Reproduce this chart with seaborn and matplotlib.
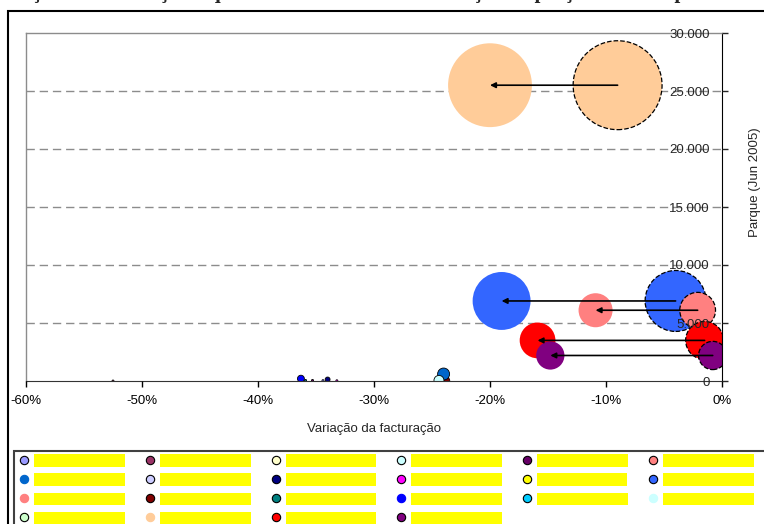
import matplotlib
matplotlib.use('Agg')
import matplotlib.pyplot as plt
import seaborn as sns
import pandas as pd
from matplotlib.lines import Line2D
from matplotlib.patches import Rectangle
from matplotlib.ticker import FuncFormatter

sns.set_style('white')
plt.rcParams['font.family'] = ['Liberation Sans', 'DejaVu Sans']

titulo = 'Variação da facturação e quota de mercado com a redução de preço estimada pelo modelo'

# operadores que se deslocam com a redução de preço (antes -> depois)
cores_mov = ['#FFCC99', '#3366FF', '#FF8080', '#FF0000', '#800080']
var_antes = [-9.0, -4.0, -2.1, -1.5, -0.8]
var_depois = [-20.0, -19.0, -10.9, -15.9, -14.8]
parque_mov = [25500, 6900, 6100, 3500, 2200]
fact_antes = [198, 93, 32, 36, 20]
fact_depois = [176, 84, 29, 32, 20]

# pequenos operadores junto ao eixo
cores_pq = ['#993366', '#0000FF', '#008080', '#660066', '#9999FF', '#000080', '#FF00FF', '#800000', '#0066CC', '#CCFFFF']
bordas_pq = ['black', 'none', 'black', 'black', 'black', 'black', 'black', 'black', 'none', 'black']
var_pq = [-52.5, -36.3, -35.9, -35.3, -34.4, -34.0, -33.2, -23.9, -24.0, -24.4]
parque_pq = [0, 200, 50, 50, 30, 130, 20, 0, 600, 50]
fact_pq = [0.1, 1.2, 0.1, 0.1, 0.1, 0.6, 0.1, 2.5, 3.6, 2.5]

# legenda (por linhas)
leg_cores = ['#9999FF', '#993366', '#FFFFCC', '#CCFFFF', '#660066', '#FF8080',
             '#0066CC', '#CCCCFF', '#000080', '#FF00FF', '#FFFF00', '#3366FF',
             '#FF8080', '#800000', '#008080', '#0000FF', '#00CCFF', '#CCFFFF',
             '#CCFFCC', '#FFCC99', '#FF0000', '#800080']
leg_borda = [1, 1, 1, 1, 1, 1, 0, 1, 1, 1, 1, 1, 0, 1, 1, 0, 1, 0, 1, 0, 1, 1]

yticks = [0, 5000, 10000, 15000, 20000, 25000, 30000]
xticks = [-60, -50, -40, -30, -20, -10, 0]

fmax = max(fact_antes)
smax = 20.7 * fmax  # area proporcional a facturacao

fig = plt.figure(figsize=(7.64, 5.24), dpi=100)
ax = fig.add_axes([26/764, 1-381/524, 696/764, 348/524])

df_antes = pd.DataFrame({'var': var_antes, 'parque': parque_mov, 'fact': fact_antes, 'cor': cores_mov})
df_depois = pd.DataFrame({'var': var_depois, 'parque': parque_mov, 'fact': fact_depois, 'cor': cores_mov})
df_pq = pd.DataFrame({'var': var_pq, 'parque': parque_pq, 'fact': fact_pq, 'cor': cores_pq})

# grelha por baixo das bolhas
for y in yticks[1:-1]:
    ax.axhline(y, color='#8c8c8c', linestyle=(0, (6, 3.5)), linewidth=1, zorder=0)

sns.scatterplot(data=df_antes, x='var', y='parque', hue='cor', palette={c: c for c in cores_mov},
                size='fact', sizes=(0, smax), size_norm=(0, fmax), legend=False, ax=ax,
                edgecolor='black', linewidth=0.9, linestyle='--', alpha=1)
sns.scatterplot(data=df_depois, x='var', y='parque', hue='cor', palette={c: c for c in cores_mov},
                size='fact', sizes=(0, smax), size_norm=(0, fmax), legend=False, ax=ax,
                edgecolor='none', linewidth=0, alpha=1)
sns.scatterplot(data=df_pq, x='var', y='parque', hue='cor', palette={c: c for c in cores_pq},
                size='fact', sizes=(0, smax), size_norm=(0, fmax), legend=False, ax=ax,
                edgecolor=bordas_pq, linewidth=0.6, alpha=1)

for x0, x1, y in zip(var_antes, var_depois, parque_mov):
    ax.annotate('', xy=(x1, y), xytext=(x0, y),
                arrowprops=dict(arrowstyle='-|>', color='black', lw=1.2, mutation_scale=8,
                                shrinkA=0, shrinkB=0), zorder=5)

ax.set_xlim(-60, 0)
ax.set_ylim(0, 30000)
ax.set_xticks(xticks)
ax.set_yticks(yticks)
ax.xaxis.set_major_formatter(FuncFormatter(lambda v, p: f'{v:.0f}%'))
ax.yaxis.set_major_formatter(FuncFormatter(lambda v, p: f'{int(v):,}'.replace(',', '.')))
ax.yaxis.tick_right()
ax.yaxis.set_label_position('right')
ax.tick_params(axis='x', direction='out', length=4, width=1, pad=6, labelsize=9.5, colors='black', bottom=True)
ax.tick_params(axis='y', direction='out', length=4, width=1, pad=-13, labelsize=9.5, right=True, left=False)
for t in ax.get_yticklabels():
    t.set_ha('right')
ax.grid(False)
ax.set_axisbelow(False)

for s in ['left', 'top']:
    ax.spines[s].set_color('#8c8c8c')
    ax.spines[s].set_linewidth(1)
ax.spines['bottom'].set_color('#333333')
ax.spines['right'].set_color('black')

ax.set_xlabel('Variação da facturação', fontsize=9.5)
ax.xaxis.set_label_coords(0.5, -0.12)
ax.set_ylabel('Parque (Jun 2005)', fontsize=9.5, rotation=90, va='center')
ax.yaxis.set_label_coords(1.047, 0.57)

fig.text(0.5, 1+2/524, titulo, ha='center', va='baseline', fontsize=15, fontweight='bold',
         family='Liberation Serif')

fig.add_artist(Rectangle((8/764, -0.05), 1.0, 1-11/524+0.05, transform=fig.transFigure,
                         fill=False, edgecolor='black', linewidth=1.5))
# caixa da legenda (continua para fora da figura)
fig.add_artist(Rectangle((14/764, -0.05), 1.0, 1-451/524+0.05, transform=fig.transFigure,
                         fill=False, edgecolor='#404040', linewidth=1.5))

# legenda: matplotlib preenche por colunas, reordenar
handles, labels = [], []
for c in range(6):
    nlin = 4 if c < 4 else 3
    for r in range(nlin):
        i = r*6 + c
        handles.append(Line2D([], [], marker='o', linestyle='', markersize=6,
                              markerfacecolor=leg_cores[i],
                              markeredgecolor='black' if leg_borda[i] else leg_cores[i],
                              markeredgewidth=0.8))
        labels.append(f'Operador rede {i+1:02d}')
leg = fig.legend(handles, labels, ncol=6, loc='upper left', bbox_to_anchor=(14/764, 1-451/524),
                 frameon=False, fontsize=8,
                 handlelength=1.0, handletextpad=0.5, columnspacing=1.85, labelspacing=0.82,
                 borderpad=0.4, borderaxespad=0)
for t in leg.get_texts():
    t.set_color('#FFFF00')
    t.set_bbox(dict(facecolor='#FFFF00', edgecolor='none', pad=0.8))

fig.savefig('out.png', dpi=100)
